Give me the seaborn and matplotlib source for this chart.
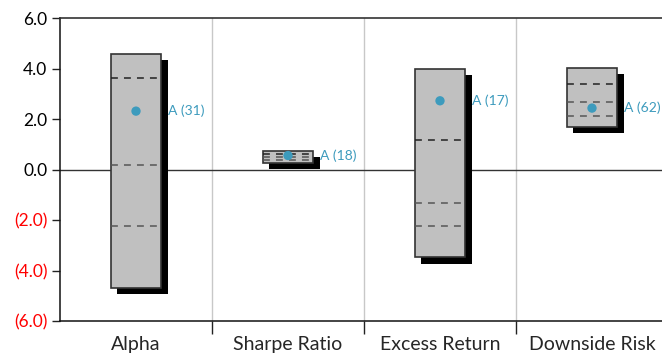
import numpy as np
import pandas as pd
import matplotlib
matplotlib.use("Agg")
import matplotlib.pyplot as plt
import matplotlib.patheffects as pe
from matplotlib.ticker import FixedLocator
import seaborn as sns

# datos
categorias = ["Alpha", "Sharpe Ratio", "Excess Return", "Downside Risk"]
caja_max = [4.60, 0.73, 4.00, 4.02]
caja_min = [-4.68, 0.27, -3.48, 1.70]
linea_1 = [3.63, 0.64, 1.19, 3.38]
linea_2 = [0.20, 0.52, -1.31, 2.67]
linea_3 = [-2.22, 0.40, -2.24, 2.12]
valor_a = [2.32, 0.56, 2.73, 2.44]
rango_a = [31, 18, 17, 62]

y_ticks = [-6, -4, -2, 0, 2, 4, 6]

df = pd.DataFrame({
    "categoria": categorias,
    "alto": np.array(caja_max) - np.array(caja_min),
    "base": caja_min,
    "valor": valor_a,
})

sns.set_style("white")
plt.rcParams['font.family'] = ['Lato', 'DejaVu Sans']

fig = plt.figure(figsize=(6.62, 3.55), dpi=100)
ax = fig.add_axes([60 / 662, 34 / 355, 608 / 662, 302.7 / 355])

ancho = 0.335
# cajas con sombra
sns.barplot(data=df, x="categoria", y="alto", bottom=df["base"], color="#c0c0c0",
            saturation=1, width=ancho, edgecolor="#333333", linewidth=1.2, ax=ax, zorder=3)
for p in ax.patches:
    p.set_path_effects([pe.SimplePatchShadow(offset=(4.5, -4.5), shadow_rgbFace="black", alpha=1),
                        pe.Normal()])

# lineas punteadas
for i in range(len(categorias)):
    for j, v in enumerate([linea_1[i], linea_2[i], linea_3[i]]):
        ax.plot([i - ancho / 2, i + ancho / 2], [v, v], color="#222222" if j == 0 else "#555555",
                lw=1.1, ls=(0, (4.5, 4)), zorder=4)

# puntos
sns.scatterplot(data=df, x="categoria", y="valor", color="#3d9bbd", s=45,
                edgecolor="none", ax=ax, zorder=5)
for i, (v, n) in enumerate(zip(valor_a, rango_a)):
    ax.annotate(f"A ({n})", (i + ancho / 2, v), xytext=(5, 0), textcoords="offset points",
                va="center", ha="left", fontsize=10, color="#3d9bbd", zorder=6)

ax.axhline(0, color="#333333", lw=1, zorder=2)

ax.set_xlim(-0.5, 3.5)
ax.set_ylim(-6, 6)
ax.set_yticks(y_ticks)
etiquetas = [f"{t:.1f}" if t >= 0 else f"({-t:.1f})" for t in y_ticks]
ax.set_yticklabels(etiquetas, fontsize=12.5)
for lbl, t in zip(ax.get_yticklabels(), y_ticks):
    lbl.set_color("red" if t < 0 else "black")
ax.set_xlabel("")
ax.set_ylabel("")
ax.tick_params(axis="x", which="major", length=0, labelsize=14, pad=11)
ax.xaxis.set_minor_locator(FixedLocator([0.5, 1.5, 2.5]))
ax.tick_params(axis="x", which="minor", length=9, width=1, color="#222222", direction="out")
ax.tick_params(axis="y", length=6, width=1, color="#222222", direction="out", pad=3)
ax.tick_params(left=True, bottom=True, which="both")
ax.grid(axis="x", which="minor", color="#c8c8c8", lw=1)
ax.grid(axis="y", visible=False)
ax.grid(axis="x", which="major", visible=False)

for s in ["left", "bottom"]:
    ax.spines[s].set_color("#111111")
    ax.spines[s].set_linewidth(1.1)
ax.spines["top"].set_color("#333333")
ax.spines["top"].set_linewidth(1.2)
ax.spines["right"].set_visible(False)

fig.savefig("out.png", dpi=100)
